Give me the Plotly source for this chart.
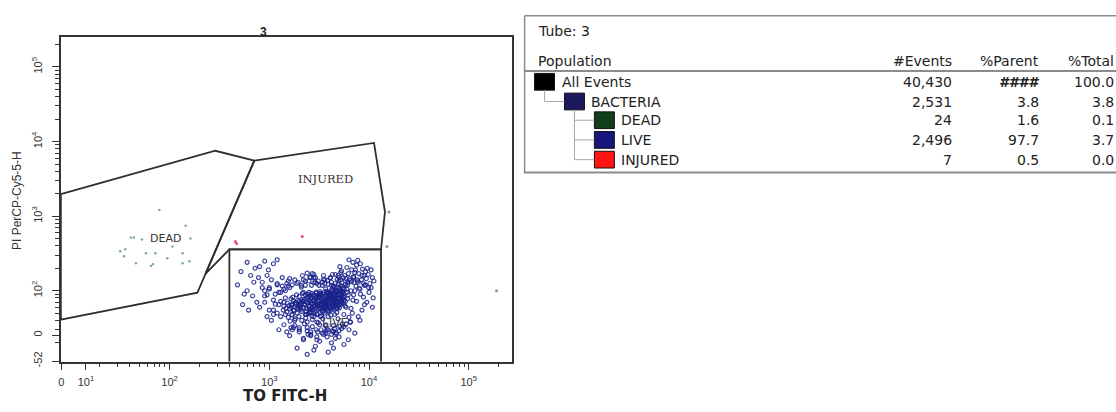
import math
import plotly.graph_objects as go

W, H = 1116, 412

# ---------------- data ----------------
# LIVE population (FITC, PI) - dense core
live_core_fitc = [1500, 2100, 2800, 3300, 4100, 5200, 1800, 2500, 3600, 4700,
                  1650, 2300, 3000, 3900, 5600, 1950, 2650, 3450, 4400, 6000,
                  1400, 2000, 2750, 3150, 3750, 4900, 1700, 2400, 3250, 4250,
                  5800, 1550, 2200, 2900, 3550, 4600, 5400, 1850, 2550, 3350,
                  4050, 5000, 1600, 2150, 2700, 3050, 3800, 4500, 6200, 1750,
                  2350, 2950, 3700, 4300, 5300, 1450, 2050, 2600, 3400, 4800,
                  1900, 2450, 3100, 3950, 5100, 5900, 1680, 2250, 2850, 3500,
                  4150, 4650, 5500, 1380, 1980, 2580, 3200, 3850, 4450, 6100,
                  1720, 2380, 3020, 3650, 4350, 5250, 1520, 2120, 2720, 3380,
                  4000, 4750, 5650, 1820, 2480, 3080, 3720, 4550, 5150, 1620,
                  2180, 2780, 3420, 4200, 4950, 5750, 1470, 2080, 2680, 3280,
                  3900, 4380, 5350, 1920, 2520, 3180, 3820, 4620, 5450, 1580,
                  2280, 2880, 3520, 4120, 4850, 6050, 1780, 2420, 3120, 3680,
                  4280, 5050, 1680, 2320, 2980, 3580, 4180, 4720, 5550, 2020,
                  2620, 3300, 3980, 4520, 5200, 1880, 2560, 3230, 3880, 4680]
live_core_pi = [52, 70, 45, 88, 60, 95, 40, 62, 75, 110,
                78, 48, 66, 54, 82, 58, 92, 42, 70, 105,
                62, 84, 55, 72, 98, 64, 47, 38, 58, 85,
                72, 44, 60, 78, 50, 90, 115, 66, 74, 46,
                68, 80, 57, 92, 41, 63, 84, 56, 88, 73,
                53, 96, 62, 102, 66, 48, 67, 86, 79, 58,
                50, 69, 37, 76, 100, 60, 65, 76, 59, 94,
                47, 74, 92, 55, 45, 52, 82, 64, 112, 78,
                82, 57, 49, 71, 61, 85, 68, 40, 68, 60,
                90, 51, 105, 42, 83, 74, 55, 82, 72, 39,
                72, 88, 52, 73, 108, 62, 58, 56, 46, 68,
                45, 94, 77, 74, 59, 90, 80, 65, 97, 63,
                64, 51, 67, 55, 88, 95, 54, 90, 56, 106,
                79, 59, 48, 43, 82, 58, 99, 70, 68, 61,
                78, 64, 86, 48, 116, 88, 50, 97, 69, 102]
# LIVE - densest centre
live_centre_fitc = [2050, 2550, 3050, 3550, 4050, 4550, 5050, 1750, 2250, 2750,
                    3250, 3750, 4250, 4750, 5250, 1950, 2450, 2950, 3450, 3950,
                    4450, 4950, 1850, 2350, 2850, 3350, 3850, 4350, 4850, 5550,
                    2150, 2650, 3150, 3650, 4150, 4650, 5150, 1650, 2500, 3000,
                    3500, 4000, 4500, 5000, 2100, 2600, 3100, 3600, 4100, 4600,
                    2400, 2900, 3400, 3900, 4400, 4900, 5400, 1800, 2300, 2800,
                    3300, 3800, 4300, 4800, 5300, 2000, 2700, 3200, 3700, 4200,
                    2200, 2750, 3250, 3750, 4250, 4750, 1900, 2450, 2950, 3450,
                    3950, 4450, 5100, 2050, 2650, 3150, 3650, 4150, 4700, 5600,
                    2350, 2850, 3350, 3850, 4350, 1700, 2550, 3050, 3550, 4050]
live_centre_pi = [58, 72, 63, 80, 70, 88, 76, 55, 66, 50,
                  92, 60, 82, 68, 90, 62, 85, 71, 54, 95,
                  66, 78, 70, 48, 83, 65, 74, 58, 98, 84,
                  76, 57, 87, 64, 92, 72, 66, 60, 95, 48,
                  73, 61, 79, 100, 53, 69, 81, 59, 77, 87,
                  80, 64, 90, 52, 71, 62, 80, 68, 88, 75,
                  57, 94, 66, 78, 70, 72, 60, 66, 85, 58,
                  95, 73, 45, 71, 104, 58, 58, 49, 92, 66,
                  83, 75, 92, 64, 81, 58, 60, 88, 96, 75,
                  70, 62, 76, 93, 67, 64, 56, 86, 70, 78]
# LIVE - ring around the core
live_ring_fitc = [1500, 2000, 2600, 3200, 3900, 4700, 5600, 6500, 1700, 2300,
                  2900, 3600, 4300, 5200, 6100, 7000, 1600, 2100, 2700, 3400,
                  4100, 4900, 5800, 6700, 1800, 2400, 3000, 3700, 4500, 5400,
                  1550, 2150, 2800, 3500, 4200, 5000, 5900, 1650, 2250, 2950,
                  3650, 4400, 5300, 6300, 1950, 2550, 3150, 3850, 4600, 5500,
                  800, 900, 1000, 1100, 1200, 1300, 1400, 850, 950, 1050,
                  1150, 1250, 1350, 1450, 1000, 1200, 900, 1100, 1300, 1400,
                  2200, 2600, 3000, 3400, 3800, 4200, 4600, 5000, 2400, 2800]
live_ring_pi = [28, 32, 26, 35, 30, 27, 33, 38, 120, 135,
                150, 125, 165, 140, 128, 155, 145, 118, 170, 130,
                148, 160, 122, 132, 34, 29, 38, 27, 31, 36,
                115, 160, 128, 142, 118, 135, 145, 32, 36, 30,
                34, 28, 31, 30, 130, 152, 118, 138, 125, 150,
                60, 85, 110, 75, 50, 95, 70, 130, 45, 140,
                90, 65, 115, 80, 55, 125, 100, 48, 72, 105,
                23, 25, 22, 27, 24, 26, 23, 29, 172, 165]
# LIVE - upper right branch
live_upper_fitc = [4200, 5000, 6100, 7200, 8400, 9600, 4600, 5500, 6700, 7800,
                   8900, 10200, 4400, 5300, 6400, 7500, 8100, 9200, 10800, 5800,
                   6900, 7400, 8600, 9900, 4800, 6200, 7000, 8800, 5100, 6600,
                   7700, 9400, 11200, 5700, 7100, 8200, 4900, 6000, 7900, 9000,
                   6500, 8500, 10500, 5400, 7300, 9800, 6300, 8000, 5200, 7600]
live_upper_pi = [130, 150, 120, 175, 140, 200, 165, 110, 190, 130,
                 160, 125, 115, 185, 145, 220, 105, 180, 150, 135,
                 240, 115, 195, 110, 142, 170, 150, 125, 210, 100,
                 255, 145, 135, 160, 128, 230, 122, 205, 170, 118,
                 138, 160, 190, 98, 190, 165, 260, 108, 175, 140]
# LIVE - halo around the core
live_halo_fitc = [900, 1100, 1250, 1300, 1200, 950, 1050, 1350, 1150, 1000,
                  6800, 7500, 8200, 9000, 6500, 7200, 8800, 10000, 7800, 6900,
                  2200, 2900, 3500, 1900, 1600, 2600, 3100, 1450, 2400, 3300,
                  2000, 2700, 3800, 4400, 1700, 2500, 3000, 3600, 1800, 4100,
                  2300, 1500, 5600, 6300, 2800, 3400, 4900, 1400, 2100, 3700,
                  9500, 10500, 8500, 11000, 7700, 6600, 9200, 10800, 7000, 8100,
                  1250, 1750, 2450, 3050, 4300, 5100, 5900, 1550, 2650, 3900]
live_halo_pi = [70, 55, 95, 45, 120, 88, 40, 150, 66, 105,
                50, 72, 90, 65, 38, 100, 82, 95, 45, 75,
                140, 130, 160, 125, 110, 150, 135, 100, 32, 30,
                28, 33, 30, 34, 30, 135, 125, 140, 140, 150,
                118, 125, 48, 44, 150, 118, 42, 35, 112, 35,
                70, 110, 55, 80, 135, 58, 120, 60, 88, 40,
                30, 32, 26, 28, 29, 33, 36, 135, 118, 122]
# LIVE - sparse left part
live_left_fitc = [520, 600, 700, 800, 560, 650, 750, 900, 480, 620,
                  850, 720, 980, 540, 680, 1100, 780, 600, 950, 1200]
live_left_pi = [180, 240, 130, 210, 90, 160, 70, 250, 120, 55,
                110, 200, 190, 65, 85, 230, 150, 100, 160, 260]
# LIVE - low tail
live_tail_fitc = [1600, 2200, 2900, 3500, 4200, 5000, 1900, 2600, 3200, 3900,
                  4600, 5600, 2400, 3000, 3700, 4400, 6200, 2000, 2800, 7200]
live_tail_pi = [25, 22, 18, 26, 20, 24, 17, 28, 21, 15,
                27, 19, 14, 24, 29, 17, 22, 30, 16, 27]

# DEAD population
dead_fitc = [79, 41, 44, 145, 162, 32, 35, 58, 72, 46, 68, 95, 135, 135, 158, 36, 65, 53, 107]
dead_pi = [1213, 518, 518, 745, 503, 338, 290, 318, 318, 234, 227, 273, 318, 234, 249, 359, 214, 486, 393]

# INJURED population
injured_fitc = [457, 2140, 470]
injured_pi = [458, 533, 430]

# ungated events
other_fitc = [15850, 15100, 190000]
other_pi = [1140, 393, 100]

# gates (FITC, PI vertices)
dead_gate_fitc = [8.13, 288, 708, 190, 8.13, 8.13]
dead_gate_pi = [1972, 7530, 5550, 94, 41, 1972]
injured_gate_fitc = [708, 11220, 14450, 13200, 398, 229, 708]
injured_gate_pi = [5550, 9590, 1140, 359, 359, 168, 5550]
live_gate_fitc = [398, 398, 13200, 13200]
live_gate_pi = [11.2, 359, 359, 11.2]

# gate label positions
gate_names = ["DEAD", "INJURED", "LIVE"]
gate_label_fitc = [91, 3630, 4570]
gate_label_pi = [502, 3110, 36.6]

# axis ticks
x_tickvals = [8.2, 14.5, 100, 1000, 10000, 100000]
x_ticktext = ["0", "10<sup>1</sup>", "10<sup>2</sup>", "10<sup>3</sup>", "10<sup>4</sup>", "10<sup>5</sup>"]
y_tickvals = [11.4, 25.4, 100, 1000, 10000, 100000]
y_ticktext = ["-52", "0", "10<sup>2</sup>", "10<sup>3</sup>", "10<sup>4</sup>", "10<sup>5</sup>"]
minor_vals = [d * 10 ** e for e in range(1, 6) for d in range(2, 10)]

# population table
populations = ["All Events", "BACTERIA", "DEAD", "LIVE", "INJURED"]
levels = [0, 1, 2, 2, 2]
events = [40430, 2531, 24, 2496, 7]
pct_parent = ["####", "3.8", "1.6", "97.7", "0.5"]
pct_total = ["100.0", "3.8", "0.1", "3.7", "0.0"]
pop_colors = ["#000000", "#1c1a5c", "#123d1c", "#16167c", "#ff1414"]

# ---------------- figure ----------------
live_fitc = (live_core_fitc + live_centre_fitc + live_ring_fitc + live_upper_fitc
             + live_halo_fitc + live_left_fitc + live_tail_fitc)
live_pi = (live_core_pi + live_centre_pi + live_ring_pi + live_upper_pi
           + live_halo_pi + live_left_pi + live_tail_pi)

fig = go.Figure()
gate_line = dict(color="#2e2e2e", width=1.8)

fig.add_trace(go.Scatter(x=live_fitc, y=live_pi, mode="markers",
                         marker=dict(symbol="circle-open", size=4, color="rgba(26,34,140,0.85)",
                                     line=dict(width=1.2)), hoverinfo="skip"))
fig.add_trace(go.Scatter(x=dead_fitc, y=dead_pi, mode="markers",
                         marker=dict(symbol="circle", size=2.5, color="#7fa8a0"), hoverinfo="skip"))
fig.add_trace(go.Scatter(x=injured_fitc, y=injured_pi, mode="markers",
                         marker=dict(symbol="circle", size=3, color="#e8506a"), hoverinfo="skip"))
fig.add_trace(go.Scatter(x=other_fitc, y=other_pi, mode="markers",
                         marker=dict(symbol="circle", size=3, color="#8a90b8"), hoverinfo="skip"))
for gx, gy in [(dead_gate_fitc, dead_gate_pi), (injured_gate_fitc, injured_gate_pi),
               (live_gate_fitc, live_gate_pi)]:
    fig.add_trace(go.Scatter(x=gx, y=gy, mode="lines", line=gate_line, hoverinfo="skip"))

gate_fonts = [dict(family="DejaVu Sans", size=11, color="#333"),
              dict(family="DejaVu Serif", size=11.5, color="#333"),
              dict(family="DejaVu Sans", size=12, color="#444")]
for name, gx, gy, f in zip(gate_names, gate_label_fitc, gate_label_pi, gate_fonts):
    fig.add_annotation(x=math.log10(gx), y=math.log10(gy), xref="x", yref="y", text=name,
                       showarrow=False, xanchor="center", yanchor="middle", font=f)

axis_common = dict(showline=True, mirror=True, linecolor="#333", linewidth=1.6,
                   ticks="outside", ticklen=7, tickwidth=1.3, tickcolor="#333",
                   showgrid=False, zeroline=False, tickmode="array",
                   tickfont=dict(family="Liberation Sans", size=11, color="#333"),
                   minor=dict(tickmode="array", tickvals=minor_vals, ticks="outside",
                              ticklen=4, tickwidth=1.2, tickcolor="#333", showgrid=False))

fig.update_layout(
    width=W, height=H, margin=dict(l=0, r=0, t=0, b=0),
    paper_bgcolor="white", plot_bgcolor="white", showlegend=False,
    xaxis=dict(type="log", range=[0.91, 5.43], domain=[58 / W, 510 / W],
               tickvals=x_tickvals, ticktext=x_ticktext, ticklabelstandoff=2, **axis_common),
    yaxis=dict(type="log", range=[1.049, 5.396], domain=[45 / H, 374 / H],
               tickvals=y_tickvals, ticktext=y_ticktext, tickangle=-90,
               ticklabelstandoff=6, **axis_common),
)

def px(x):
    return x / W

def py(y):
    return 1 - y / H

def note(x, y, text, font, xanchor="center", **kw):
    fig.add_annotation(x=px(x), y=py(y), xref="paper", yref="paper", text=text,
                       xanchor=xanchor, yanchor="middle", showarrow=False, font=font, **kw)

# titles
note(261, 32, "<b>3</b>", dict(family="Liberation Sans", size=12, color="#222"))
note(283, 402, "<b>TO FITC-H</b>", dict(family="DejaVu Sans", size=15, color="#222"))
note(14, 203, "PI PerCP-Cy5-5-H", dict(family="Liberation Sans", size=12, color="#333"),
     textangle=-90)

# ---------------- population table ----------------
tfont = dict(family="DejaVu Sans", size=14, color="#222")
line_gray = dict(color="#8c8c8c", width=2)
fig.add_shape(type="line", xref="paper", yref="paper", x0=px(523), x1=px(523), y0=py(16), y1=py(176),
              line=dict(color="#8c8c8c", width=1.5))
fig.add_shape(type="line", xref="paper", yref="paper", x0=px(523), x1=1.01, y0=py(16), y1=py(16),
              line=dict(color="#8c8c8c", width=1.5))
fig.add_shape(type="line", xref="paper", yref="paper", x0=px(523), x1=1.01, y0=py(72), y1=py(72),
              line=line_gray)
fig.add_shape(type="line", xref="paper", yref="paper", x0=px(523), x1=1.01, y0=py(175), y1=py(175),
              line=line_gray)

note(534, 31, "Tube: 3", tfont, xanchor="left")
note(534, 62, "Population", tfont, xanchor="left")
for label, xr in [("#Events", 954), ("%Parent", 1041), ("%Total", 1116)]:
    note(xr, 62, label, tfont, xanchor="right")

row_y = [83, 103, 122, 142, 162]
sq_x0 = {0: 533, 1: 563, 2: 593}
for i, (name, lvl) in enumerate(zip(populations, levels)):
    y = row_y[i]
    x0 = sq_x0[lvl]
    fig.add_shape(type="rect", xref="paper", yref="paper", x0=px(x0), x1=px(x0 + 20),
                  y0=py(y - 8.5), y1=py(y + 8.5), fillcolor=pop_colors[i],
                  line=dict(color="#111", width=1))
    note(x0 + 25, y, name, tfont, xanchor="left")
    note(954, y, f"{events[i]:,}", tfont, xanchor="right")
    ptxt = "<b><i>" + pct_parent[i] + "</i></b>" if pct_parent[i].startswith("#") else pct_parent[i]
    note(1041, y, ptxt, tfont, xanchor="right")
    note(1116, y, pct_total[i], tfont, xanchor="right")
    if lvl > 0:
        parent = max(j for j in range(i) if levels[j] == lvl - 1)
        vx = sq_x0[levels[parent]] + 10
        fig.add_shape(type="line", xref="paper", yref="paper", x0=px(vx), x1=px(vx),
                      y0=py(row_y[parent] + 8.5), y1=py(y), line=dict(color="#aaa", width=1))
        fig.add_shape(type="line", xref="paper", yref="paper", x0=px(vx), x1=px(x0),
                      y0=py(y), y1=py(y), line=dict(color="#aaa", width=1))

page_js = ("document.documentElement.style.margin='0';"
           "document.documentElement.style.overflow='hidden';"
           "document.body.style.margin='0';"
           "document.body.style.overflow='hidden';")
fig.write_html("out.html", config={"displayModeBar": False}, post_script=page_js)
